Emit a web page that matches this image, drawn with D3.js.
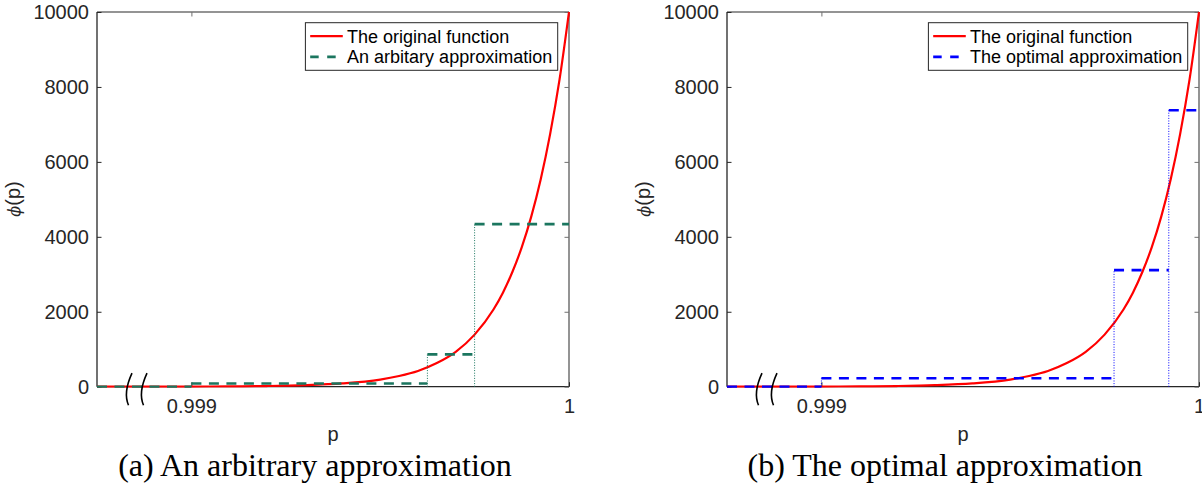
<!DOCTYPE html>
<html>
<head>
<meta charset="utf-8">
<script src="https://cdn.jsdelivr.net/npm/d3@7"></script>
<style>
  html, body { margin: 0; padding: 0; background: #fff; }
  svg { display: block; }
</style>
</head>
<body>
<svg id="fig" width="1202" height="494"></svg>
<script>
// Sampled values of the original function phi(p) near p = 1
const pGrid = [0.99875, 0.999, 0.9991, 0.9992, 0.9993, 0.9994, 0.9995, 0.99955, 0.9996, 0.99965,
               0.9997, 0.99975, 0.9998, 0.999825, 0.99985, 0.999875, 0.9999, 0.999925, 0.99995, 0.999975, 1.0];
const phiOriginal = [0, 4, 8, 18, 40, 87, 190, 286, 420, 630,
                     930, 1390, 2060, 2510, 3060, 3725, 4540, 5530, 6740, 8200, 10000];

// Piecewise-constant approximations: breakpoints and level on each interval
const arbEdges = [0.99875, 0.999, 0.999625, 0.99975, 1.0];
const arbLevels = [0, 85, 864, 4339];
const optEdges = [0.99875, 0.999, 0.999775, 0.99992, 1.0];
const optLevels = [0, 224, 3112, 7378];

// Axis ticks
const yTicks = [0, 2000, 4000, 6000, 8000, 10000];
const xTicks = [0.999, 1.0];
const xTickLabels = ["0.999", "1"];

const legendOriginal = "The original function";
const legendArb = "An arbitary approximation";
const legendOpt = "The optimal approximation";
const captionA = "(a) An arbitrary approximation";
const captionB = "(b) The optimal approximation";

const svg = d3.select("#fig");
svg.append("rect").attr("width", 1202).attr("height", 494).attr("fill", "#fff");

const AX_W = 472, AX_TOP = 12, AX_BOT = 386.7;
const SANS = "'Liberation Sans', Arial, Helvetica, sans-serif";
const AXIS_COL = "#262626";

function drawPanel(id, ox, edges, levels, color, legendLabel, caption, captionCx) {
  const g = svg.append("g").attr("id", id);
  const x = d3.scaleLinear().domain([0.99875, 1.0]).range([ox, ox + AX_W]);
  const y = d3.scaleLinear().domain([0, 10000]).range([AX_BOT, AX_TOP]);

  // axis frame (drawn beneath the data)
  g.append("line").attr("x1", ox).attr("x2", ox + AX_W).attr("y1", AX_TOP).attr("y2", AX_TOP)
    .attr("stroke", "#707070").attr("stroke-width", 1.5);
  g.append("line").attr("x1", ox + AX_W).attr("x2", ox + AX_W).attr("y1", AX_TOP).attr("y2", AX_BOT)
    .attr("stroke", "#707070").attr("stroke-width", 1.5);
  g.append("line").attr("x1", ox).attr("x2", ox + AX_W).attr("y1", AX_BOT).attr("y2", AX_BOT)
    .attr("stroke", AXIS_COL).attr("stroke-width", 1.3);
  g.append("line").attr("x1", ox).attr("x2", ox).attr("y1", AX_TOP).attr("y2", AX_BOT)
    .attr("stroke", AXIS_COL).attr("stroke-width", 1.3);

  // left axis with ticks pointing inward
  const yAxis = g.append("g").attr("transform", `translate(${ox},0)`)
    .call(d3.axisLeft(y).tickValues(yTicks).tickSize(-4.5).tickPadding(8).tickFormat(d3.format("d")));
  yAxis.select(".domain").remove();
  yAxis.selectAll("line").attr("stroke", AXIS_COL);
  yAxis.selectAll("text").attr("font-family", SANS).attr("font-size", 20).attr("fill", AXIS_COL);

  // right axis ticks
  const yAxisR = g.append("g").attr("transform", `translate(${ox + AX_W},0)`)
    .call(d3.axisRight(y).tickValues(yTicks).tickSize(-4.5).tickFormat(""));
  yAxisR.select(".domain").remove();
  yAxisR.selectAll("line").attr("stroke", "#707070");

  // bottom axis
  const xAxis = g.append("g").attr("transform", `translate(0,${AX_BOT})`)
    .call(d3.axisBottom(x).tickValues(xTicks).tickSize(-4.5).tickPadding(12)
      .tickFormat((d, i) => xTickLabels[i]));
  xAxis.select(".domain").remove();
  xAxis.selectAll("line").attr("stroke", AXIS_COL);
  xAxis.selectAll("text").attr("font-family", SANS).attr("font-size", 20).attr("fill", AXIS_COL);

  // top axis ticks
  const xAxisT = g.append("g").attr("transform", `translate(0,${AX_TOP})`)
    .call(d3.axisTop(x).tickValues(xTicks).tickSize(-4.5).tickFormat(""));
  xAxisT.select(".domain").remove();
  xAxisT.selectAll("line").attr("stroke", "#707070");

  const clipId = id + "-clip";
  svg.append("clipPath").attr("id", clipId)
    .append("rect").attr("x", ox).attr("y", AX_TOP - 1).attr("width", AX_W + 1).attr("height", AX_BOT - AX_TOP + 2);

  const plot = g.append("g").attr("clip-path", `url(#${clipId})`);

  // original function
  const line = d3.line().x(d => x(d[0])).y(d => y(d[1])).curve(d3.curveMonotoneX);
  plot.append("path")
    .datum(d3.zip(pGrid, phiOriginal))
    .attr("d", line)
    .attr("fill", "none").attr("stroke", "#ff0000").attr("stroke-width", 2.2);

  // dotted verticals at breakpoints
  for (let i = 1; i < levels.length; i++) {
    plot.append("line")
      .attr("x1", x(edges[i])).attr("x2", x(edges[i]))
      .attr("y1", y(0)).attr("y2", y(levels[i]))
      .attr("stroke", color).attr("stroke-width", 1).attr("stroke-dasharray", "1,1.6");
  }
  // dashed horizontal levels
  for (let i = 0; i < levels.length; i++) {
    plot.append("line")
      .attr("x1", x(edges[i])).attr("x2", x(edges[i + 1]))
      .attr("y1", y(levels[i])).attr("y2", y(levels[i]))
      .attr("stroke", color).attr("stroke-width", 2.6).attr("stroke-dasharray", "10,7.5");
  }

  // axis break marks
  [ox + 32, ox + 47].forEach(bx => {
    const by = AX_BOT;
    g.append("path")
      .attr("d", `M${bx + 3},${by - 13.5} Q${bx - 6},${by + 6} ${bx - 0.5},${by + 18.5}`)
      .attr("fill", "none").attr("stroke", "#000").attr("stroke-width", 1.6);
  });

  // axis labels
  g.append("text").attr("x", ox + AX_W / 2).attr("y", 441)
    .attr("text-anchor", "middle").attr("font-family", SANS).attr("font-size", 20)
    .attr("fill", AXIS_COL).text("p");
  const yl = g.append("text")
    .attr("transform", `translate(${ox - 77},199) rotate(-90)`)
    .attr("text-anchor", "middle").attr("font-family", SANS).attr("font-size", 20).attr("fill", AXIS_COL);
  yl.append("tspan").attr("font-family", "'DejaVu Serif', serif").attr("font-style", "italic")
    .attr("font-size", 16).text("ϕ");
  yl.append("tspan").text("(p)");

  // legend
  const lg = g.append("g");
  const lbox = lg.append("rect").attr("fill", "#fff").attr("stroke", AXIS_COL).attr("stroke-width", 1);
  const t1 = lg.append("text").attr("font-family", SANS).attr("font-size", 18).attr("fill", "#000").text(legendOriginal);
  const t2 = lg.append("text").attr("font-family", SANS).attr("font-size", 18).attr("fill", "#000").text(legendLabel);
  const tw = Math.max(t1.node().getComputedTextLength(), t2.node().getComputedTextLength());
  const lw = 41.7 + tw + 5.5, lh = 47.6;
  const lx = ox + AX_W - 11.3 - lw, ly = 22.7;
  lbox.attr("x", lx).attr("y", ly).attr("width", lw).attr("height", lh);
  t1.attr("x", lx + 41.7).attr("y", ly + 20);
  t2.attr("x", lx + 41.7).attr("y", ly + 40.6);
  lg.append("line").attr("x1", lx + 4.8).attr("x2", lx + 37.4).attr("y1", ly + 13.5).attr("y2", ly + 13.5)
    .attr("stroke", "#ff0000").attr("stroke-width", 2.2);
  lg.append("line").attr("x1", lx + 4.8).attr("x2", lx + 37.4).attr("y1", ly + 34.2).attr("y2", ly + 34.2)
    .attr("stroke", color).attr("stroke-width", 2.6).attr("stroke-dasharray", "8.5,8.5");

  // caption
  svg.append("text").attr("x", captionCx).attr("y", 476).attr("text-anchor", "middle")
    .attr("font-family", "'Liberation Serif', 'Times New Roman', serif").attr("font-size", 32)
    .attr("fill", "#000").text(caption);
}

drawPanel("panel-a", 97, arbEdges, arbLevels, "#1b765f", legendArb, captionA, 315);
drawPanel("panel-b", 727, optEdges, optLevels, "#0000ff", legendOpt, captionB, 945);
</script>
</body>
</html>
